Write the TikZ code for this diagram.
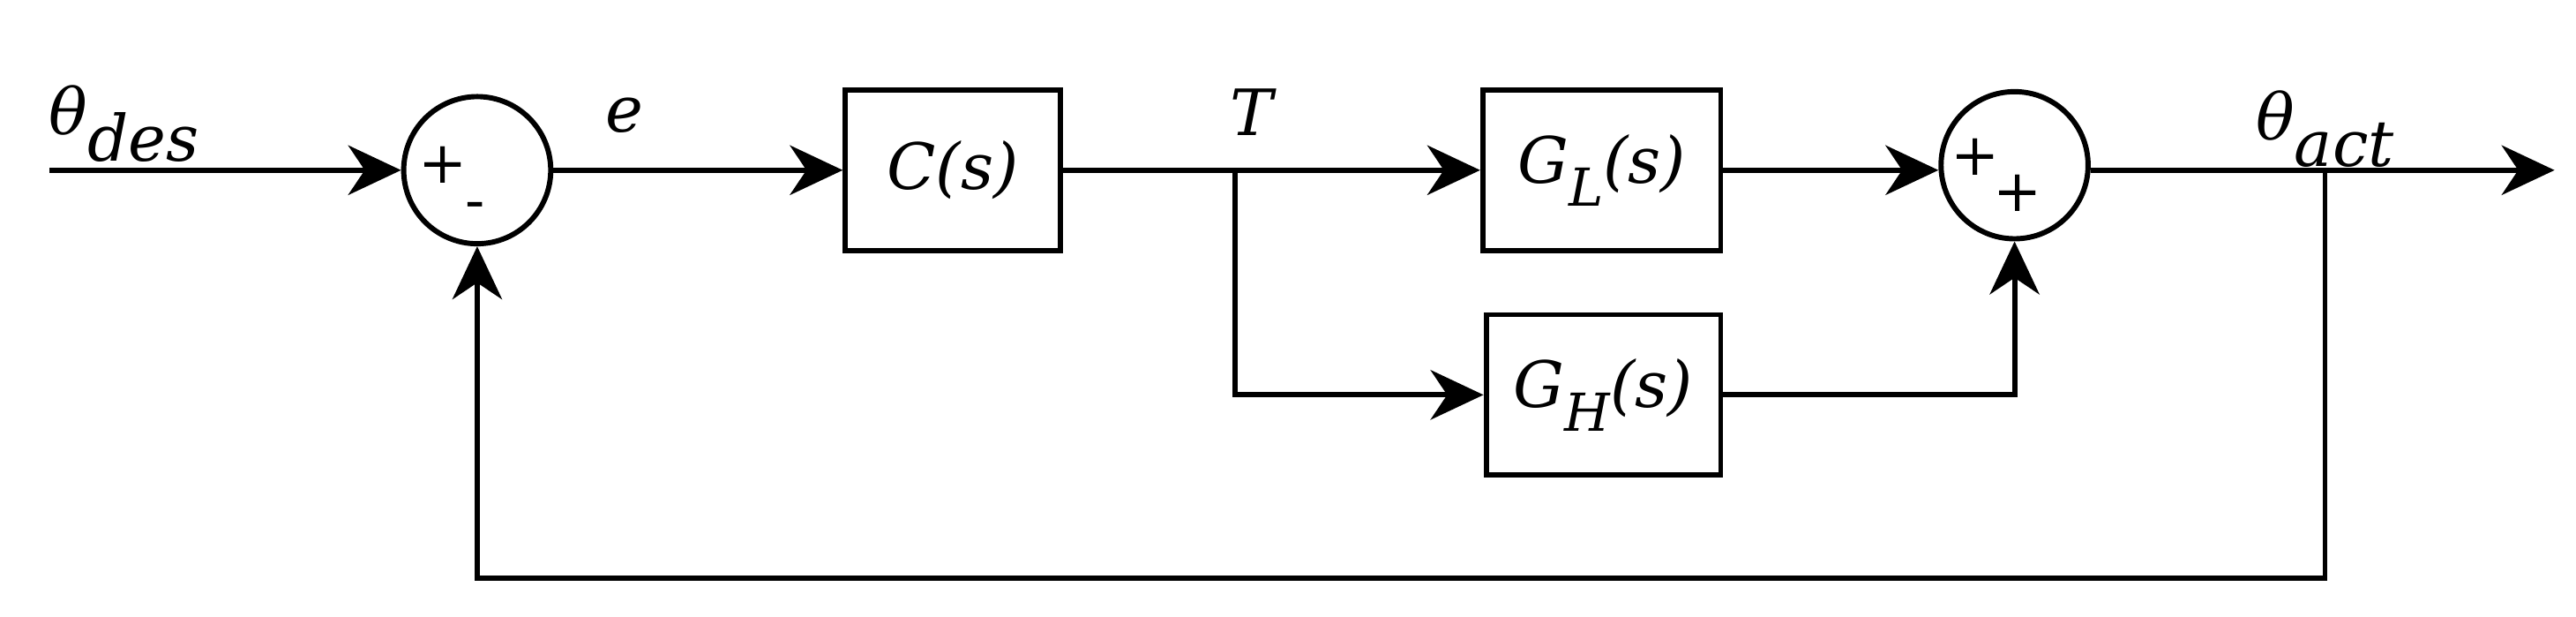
\documentclass[tikz,border=0pt]{standalone}
\usepackage{fontspec}
\setmainfont{DejaVu Serif}
\usetikzlibrary{arrows.meta}
\begin{document}
\begin{tikzpicture}[x=0.01cm,y=-0.01cm,
  every node/.style={font=\fontsize{11}{13}\selectfont\itshape},
  blk/.style={draw,line width=0.9pt,minimum width=1.3cm,minimum height=0.97cm,inner sep=0pt},
  sum/.style={draw,circle,line width=0.9pt,minimum size=0.89cm,inner sep=0pt},
  wire/.style={line width=0.9pt},
  arr/.style={wire,-{Stealth[length=0.32cm,width=0.3cm,inset=0.1cm]}}]
\useasboundingbox (0,0) rectangle (1560,373);
\coordinate (in) at (30,103);
\node[sum] (s1) at (289,103) {};
\node[font=\fontsize{10}{12}\selectfont] at (268,100) {+};
\node[font=\fontsize{10}{12}\selectfont] at (288,128) {-};
\node[blk] (C) at (577,103) {C(s)};
\node[blk,minimum width=1.44cm] (GL) at (970,103) {G\raisebox{-0.7ex}{\small L}(s)};
\node[blk,minimum width=1.42cm] (GH) at (971,239) {G\raisebox{-0.7ex}{\small H}(s)};
\node[sum] (s2) at (1220,100) {};
\node[font=\fontsize{10}{12}\selectfont] at (1196,95) {+};
\node[font=\fontsize{10}{12}\selectfont] at (1222,117) {+};
\coordinate (out) at (1547,103);
\coordinate (br) at (748,103);
\coordinate (fb) at (1408,103);
\node at (75,75) {θ\raisebox{-0.8ex}{des}};
\node at (378,70) {e};
\node at (758,68) {T};
\node at (1408,78) {θ\raisebox{-0.8ex}{act}};
\draw[arr] (in) -- (s1.west);
\draw[arr] (s1.east) -- (C.west);
\draw[arr] (C.east) -- (GL.west);
\draw[arr] (br) |- (GH.west);
\draw[arr] (GL.east) -- (GL.east -| s2.west);
\draw[arr] (GH.east) -| (s2.south);
\draw[arr] (s2.east |- out) -- (out);
\draw[arr] (fb) -- (1408,350) -| (s1.south);
\end{tikzpicture}
\end{document}
